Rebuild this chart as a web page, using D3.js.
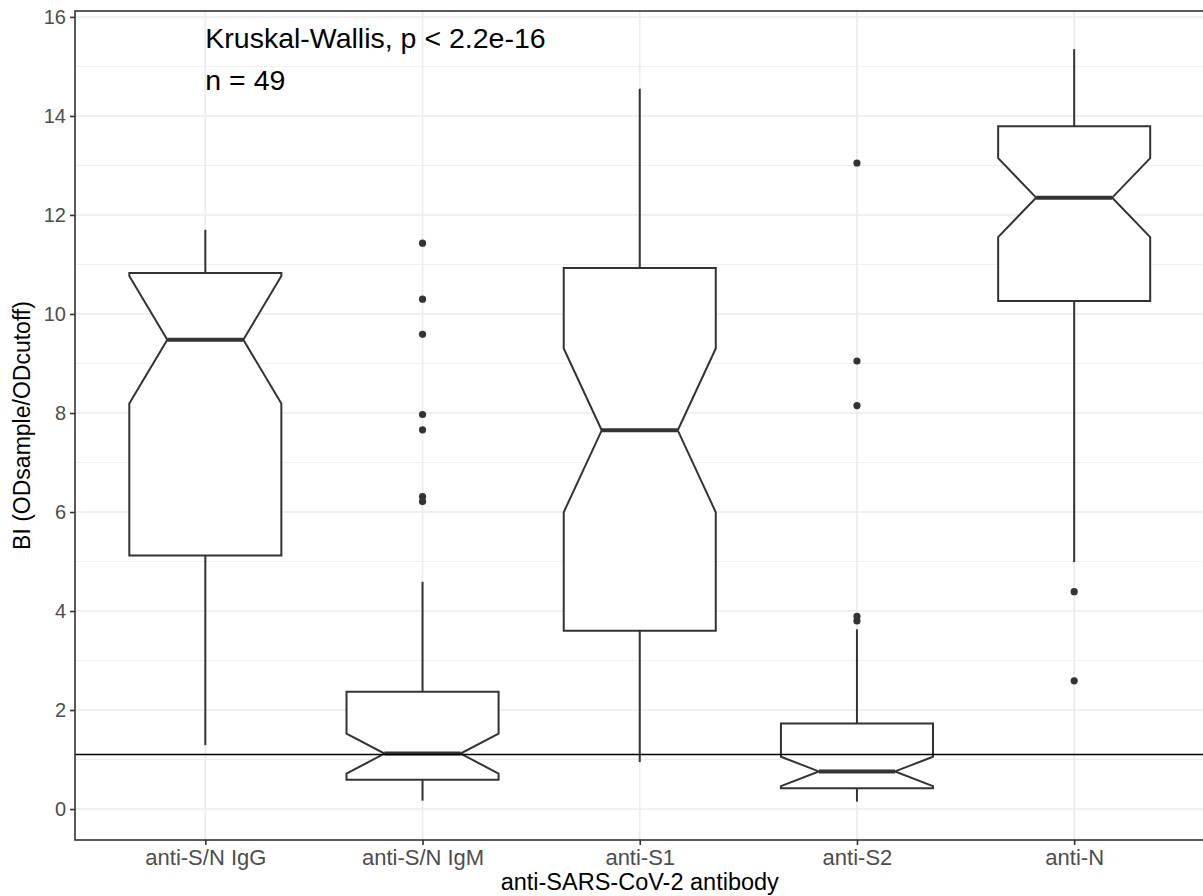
<!DOCTYPE html>
<html>
<head>
<meta charset="utf-8">
<script src="https://cdn.jsdelivr.net/npm/d3@7"></script>
<style>
  body { margin: 0; background: #fff; }
  svg { display: block; font-family: "Liberation Sans", Arial, sans-serif; }
</style>
</head>
<body>
<div class="chart-area"></div>
<script>
const width = 1203
const height = 896

// data
const categories = ['anti-S/N IgG', 'anti-S/N IgM', 'anti-S1', 'anti-S2', 'anti-N']
const whiskerLow = [1.29, 0.17, 0.95, 0.15, 4.99]
const q1 = [5.12, 0.59, 3.60, 0.42, 10.26]
const medians = [9.48, 1.12, 7.65, 0.76, 12.35]
const q3 = [10.83, 2.37, 10.93, 1.73, 13.79]
const whiskerHigh = [11.70, 4.59, 14.55, 3.63, 15.35]
const outliers = [
  [],
  [11.43, 10.30, 9.59, 7.97, 7.66, 6.31, 6.21],
  [],
  [13.05, 9.05, 8.15, 3.89, 3.80],
  [4.39, 2.59],
]
const sampleSize = 49
const cutoff = 1.1
const yTicks = [0, 2, 4, 6, 8, 10, 12, 14, 16]
const yMinorTicks = [1, 3, 5, 7, 9, 11, 13, 15]
const annotation = ['Kruskal-Wallis, p < 2.2e-16', 'n = 49']

const panel = { left: 75, right: 1204.5, top: 11, bottom: 840 }
const boxWidthRatio = 0.7
const notchWidth = 0.5
const lineColor = '#333333'

const svg = d3.select('div.chart-area')
  .append('svg')
  .attr('width', width)
  .attr('height', height)

const x = d3.scalePoint()
  .domain(categories)
  .range([panel.left, panel.right])
  .padding(0.6)

const y = d3.scaleLinear()
  .domain([-0.625, 16.12])
  .range([panel.bottom, panel.top])

// panel background + grid
svg.append('rect')
  .attr('x', panel.left).attr('y', panel.top)
  .attr('width', panel.right - panel.left).attr('height', panel.bottom - panel.top)
  .attr('fill', '#fff')

const grid = svg.append('g').attr('class', 'grid')
grid.selectAll('line.minor')
  .data(yMinorTicks)
  .join('line')
  .attr('class', 'minor')
  .attr('x1', panel.left).attr('x2', panel.right)
  .attr('y1', d => y(d)).attr('y2', d => y(d))
  .attr('stroke', '#ebebeb').attr('stroke-width', 0.8)
grid.selectAll('line.major-y')
  .data(yTicks)
  .join('line')
  .attr('class', 'major-y')
  .attr('x1', panel.left).attr('x2', panel.right)
  .attr('y1', d => y(d)).attr('y2', d => y(d))
  .attr('stroke', '#ebebeb').attr('stroke-width', 1.6)
grid.selectAll('line.major-x')
  .data(categories)
  .join('line')
  .attr('class', 'major-x')
  .attr('x1', d => x(d)).attr('x2', d => x(d))
  .attr('y1', panel.top).attr('y2', panel.bottom)
  .attr('stroke', '#ebebeb').attr('stroke-width', 1.6)

// boxes
const boxes = categories.map((name, i) => {
  const iqr = q3[i] - q1[i]
  const half = 1.58 * iqr / Math.sqrt(sampleSize)
  return {
    name,
    lo: whiskerLow[i], q1: q1[i], med: medians[i], q3: q3[i], hi: whiskerHigh[i],
    notchLo: medians[i] - half, notchHi: medians[i] + half,
    out: outliers[i],
  }
})

const halfBox = boxWidthRatio * x.step() / 2
const indent = (1 - notchWidth) * halfBox

const boxG = svg.append('g').attr('class', 'boxes')
  .selectAll('g')
  .data(boxes)
  .join('g')

boxG.append('line')
  .attr('x1', d => x(d.name)).attr('x2', d => x(d.name))
  .attr('y1', d => y(d.q3)).attr('y2', d => y(d.hi))
  .attr('stroke', lineColor).attr('stroke-width', 2)
boxG.append('line')
  .attr('x1', d => x(d.name)).attr('x2', d => x(d.name))
  .attr('y1', d => y(d.q1)).attr('y2', d => y(d.lo))
  .attr('stroke', lineColor).attr('stroke-width', 2)

boxG.append('path')
  .attr('d', d => {
    const cx = x(d.name)
    const x0 = cx - halfBox, x1 = cx + halfBox
    const pts = [
      [x0, y(d.q3)], [x0, y(d.notchHi)], [x0 + indent, y(d.med)], [x0, y(d.notchLo)], [x0, y(d.q1)],
      [x1, y(d.q1)], [x1, y(d.notchLo)], [x1 - indent, y(d.med)], [x1, y(d.notchHi)], [x1, y(d.q3)],
    ]
    return d3.line()(pts) + 'Z'
  })
  .attr('fill', '#fff')
  .attr('stroke', lineColor)
  .attr('stroke-width', 2)
  .attr('stroke-linejoin', 'miter')

boxG.append('line')
  .attr('x1', d => x(d.name) - halfBox + indent)
  .attr('x2', d => x(d.name) + halfBox - indent)
  .attr('y1', d => y(d.med)).attr('y2', d => y(d.med))
  .attr('stroke', lineColor).attr('stroke-width', 4)

boxG.selectAll('circle')
  .data(d => d.out.map(v => ({ name: d.name, v })))
  .join('circle')
  .attr('cx', d => x(d.name))
  .attr('cy', d => y(d.v))
  .attr('r', 3.6)
  .attr('fill', lineColor)

// cutoff line
svg.append('line')
  .attr('x1', panel.left).attr('x2', panel.right)
  .attr('y1', y(cutoff)).attr('y2', y(cutoff))
  .attr('stroke', '#000').attr('stroke-width', 1.5)

// panel border
svg.append('rect')
  .attr('x', panel.left).attr('y', panel.top)
  .attr('width', panel.right - panel.left).attr('height', panel.bottom - panel.top)
  .attr('fill', 'none')
  .attr('stroke', lineColor).attr('stroke-width', 1.6)

// axes
const yAxis = svg.append('g')
  .attr('transform', `translate(${panel.left},0)`)
  .call(d3.axisLeft(y).tickValues(yTicks).tickSize(5).tickPadding(4))
const xAxis = svg.append('g')
  .attr('transform', `translate(0,${panel.bottom})`)
  .call(d3.axisBottom(x).tickSize(5).tickPadding(4))

for (const ax of [yAxis, xAxis]) {
  ax.select('.domain').remove()
  ax.selectAll('.tick line').attr('stroke', lineColor).attr('stroke-width', 1.6)
  ax.selectAll('.tick text')
    .attr('fill', '#4d4d4d')
    .style('font-family', '"Liberation Sans", Arial, sans-serif')
}
yAxis.selectAll('.tick text').style('font-size', '20px')
xAxis.selectAll('.tick text').style('font-size', '22px')

svg.append('text')
  .attr('x', (panel.left + panel.right) / 2)
  .attr('y', 890)
  .attr('text-anchor', 'middle')
  .style('font-size', '23.5px')
  .text('anti-SARS-CoV-2 antibody')

svg.append('text')
  .attr('transform', `translate(30,${(panel.top + panel.bottom) / 2}) rotate(-90)`)
  .attr('text-anchor', 'middle')
  .style('font-size', '23px')
  .text('BI (ODsample/ODcutoff)')

svg.append('g')
  .selectAll('text')
  .data(annotation)
  .join('text')
  .attr('x', x(categories[0]))
  .attr('y', (d, i) => 48 + i * 42)
  .style('font-size', '28.5px')
  .text(d => d)
</script>
</body>
</html>
